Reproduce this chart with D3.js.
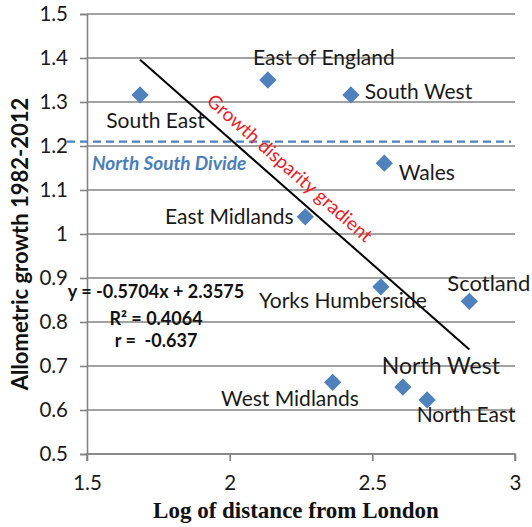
<!DOCTYPE html>
<html>
<head>
<meta charset="utf-8">
<script src="https://cdn.jsdelivr.net/npm/d3@7"></script>
<style>
  body { margin: 0; background: #fff; }
  svg { display: block; }
  text { white-space: pre; }
</style>
</head>
<body>
<script>
// UK regions: allometric growth 1982-2012 against log distance from London
const regions = ["South East", "East of England", "South West", "Wales", "East Midlands",
                 "Yorks Humberside", "Scotland", "West Midlands", "North West", "North East"];
const logDistance = [1.686, 2.134, 2.425, 2.542, 2.265, 2.530, 2.840, 2.361, 2.607, 2.692];
const growth      = [1.316, 1.350, 1.316, 1.161, 1.039, 0.880, 0.847, 0.663, 0.652, 0.623];

const xTicks = [1.5, 2, 2.5, 3];
const yTicks = [0.5, 0.6, 0.7, 0.8, 0.9, 1.0, 1.1, 1.2, 1.3, 1.4, 1.5];

// least-squares fit reported on the chart
const trendSlope = -0.5704;
const trendIntercept = 2.3575;
const statsText = ["y = -0.5704x + 2.3575", "R\u00B2 = 0.4064", "r =  -0.637"];

const divideLevel = 1.21;

const W = 532, H = 527;
const svg = d3.select("body").append("svg").attr("width", W).attr("height", H);

const x = d3.scaleLinear().domain([1.5, 3]).range([87, 515]);
const y = d3.scaleLinear().domain([0.5, 1.5]).range([454, 14]);

const gray = "#838383";
const blue = "#4f81bd";
const labelFont = "Lato, 'Open Sans', sans-serif";

// horizontal gridlines
svg.append("g")
  .selectAll("line").data(yTicks).join("line")
  .attr("x1", x(1.5)).attr("x2", x(3))
  .attr("y1", d => y(d)).attr("y2", d => y(d))
  .attr("stroke", gray).attr("stroke-width", 1.6);

// y axis
const yAxis = svg.append("g").attr("transform", `translate(${x(1.5)},0)`)
  .call(d3.axisLeft(y).tickValues(yTicks).tickSize(7).tickPadding(12)
        .tickFormat(d => String(+d.toFixed(1))));
// x axis
const xAxis = svg.append("g").attr("transform", `translate(0,${y(0.5)})`)
  .call(d3.axisBottom(x).tickValues(xTicks).tickSize(7).tickPadding(14)
        .tickFormat(d => String(d)));

[yAxis, xAxis].forEach(g => {
  g.select(".domain").attr("stroke", gray).attr("stroke-width", 1.6);
  g.selectAll(".tick line").attr("stroke", gray).attr("stroke-width", 1.6);
  g.selectAll(".tick text").attr("fill", "#1a1a1a")
    .style("font-family", labelFont).style("font-size", "20.5px");
});
xAxis.select(".domain").attr("d", `M${x(1.5)},7V0H${x(3)}V7`);

// North-South divide
svg.append("line")
  .attr("x1", 67).attr("x2", 511)
  .attr("y1", y(divideLevel)).attr("y2", y(divideLevel))
  .attr("stroke", blue).attr("stroke-width", 2.2)
  .attr("stroke-dasharray", "8,5");
svg.append("text")
  .attr("x", 92).attr("y", 170)
  .attr("fill", "#4a7ebb")
  .style("font-family", labelFont).style("font-size", "19px")
  .style("font-weight", "bold").style("font-style", "italic")
  .text("North South Divide");

// trend line across the range of the data
const xMin = d3.min(logDistance), xMax = d3.max(logDistance);
const fit = v => trendSlope * v + trendIntercept;
svg.append("line")
  .attr("x1", x(xMin)).attr("y1", y(fit(xMin)))
  .attr("x2", x(xMax)).attr("y2", y(fit(xMax)))
  .attr("stroke", "#000").attr("stroke-width", 2);

// gradient caption running along the trend line
const angle = Math.atan2(y(fit(xMax)) - y(fit(xMin)), x(xMax) - x(xMin)) * 180 / Math.PI;
const capX = 2.17;
svg.append("text")
  .attr("transform", `translate(${x(capX)},${y(fit(capX))}) rotate(${angle})`)
  .attr("text-anchor", "middle").attr("dy", -11)
  .attr("fill", "#ee1c25")
  .style("font-family", labelFont).style("font-size", "19px")
  .text("Growth disparity gradient");

// diamonds
const points = regions.map((r, i) => ({ r, x: logDistance[i], y: growth[i] }));
svg.append("g")
  .selectAll("path").data(points).join("path")
  .attr("transform", d => `translate(${x(d.x)},${y(d.y)})`)
  .attr("d", d3.symbol(d3.symbolDiamond2, 190))
  .attr("fill", blue);

// region labels: offset from each point, anchor, size
const labelLayout = {
  "South East":       [15.5, 33, "middle", 21],
  "East of England":  [56, -15, "middle", 21],
  "South West":       [67.5, 4, "middle", 21],
  "Wales":            [42.5, 17, "middle", 21],
  "East Midlands":    [-76, 7, "middle", 21],
  "Yorks Humberside": [-38, 21, "middle", 21],
  "Scotland":         [-22, -10, "start", 22],
  "West Midlands":    [-42.7, 24, "middle", 21],
  "North West":       [38, -13, "middle", 23],
  "North East":       [39, 22, "middle", 21]
};
svg.append("g")
  .selectAll("text").data(points).join("text")
  .attr("x", d => x(d.x) + labelLayout[d.r][0])
  .attr("y", d => y(d.y) + labelLayout[d.r][1])
  .attr("text-anchor", d => labelLayout[d.r][2])
  .style("font-size", d => labelLayout[d.r][3] + "px")
  .style("font-family", labelFont)
  .attr("fill", "#1a1a1a")
  .text(d => d.r);

// regression statistics
svg.append("g")
  .selectAll("text").data(statsText).join("text")
  .attr("x", 156)
  .attr("y", (d, i) => [298, 325, 347][i])
  .attr("text-anchor", "middle")
  .style("font-family", labelFont).style("font-size", "18px").style("font-weight", "bold")
  .attr("fill", "#111")
  .text(d => d);

// axis titles
svg.append("text")
  .attr("x", 296).attr("y", 518)
  .attr("text-anchor", "middle")
  .style("font-family", "'Liberation Serif', 'Times New Roman', serif")
  .style("font-size", "23px").style("font-weight", "bold")
  .attr("fill", "#111")
  .text("Log of distance from London");

svg.append("text")
  .attr("transform", "translate(28,244) rotate(-90)")
  .attr("text-anchor", "middle")
  .style("font-family", labelFont)
  .style("font-size", "22px").style("font-weight", "bold")
  .attr("fill", "#111")
  .text("Allometric growth 1982-2012");
</script>
</body>
</html>
